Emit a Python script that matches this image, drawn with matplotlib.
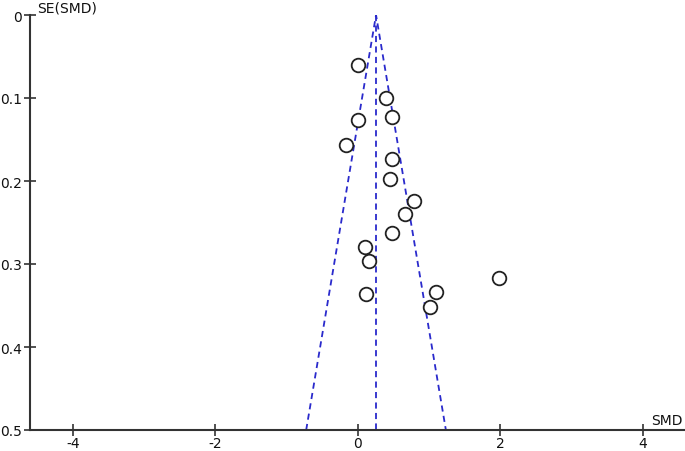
import matplotlib
matplotlib.use("Agg")
import matplotlib.pyplot as plt
import numpy as np

# Data: standardized mean differences and their standard errors
smd = [0.00, 0.39, 0.48, 0.00, -0.17, 0.48, 0.45, 0.79, 0.66, 0.48,
       0.10, 0.16, 1.98, 1.09, 0.11, 1.01]
se = [0.060, 0.100, 0.123, 0.126, 0.157, 0.174, 0.198, 0.224, 0.240, 0.263,
      0.280, 0.296, 0.317, 0.334, 0.336, 0.352]
pooled = 0.255
se_max = 0.5
xticks = [-4, -2, 0, 2, 4]
xtick_labels = ["-4", "-2", "0", "2", "4"]
yticks = [0, 0.1, 0.2, 0.3, 0.4, 0.5]
ytick_labels = ["0", "0.1", "0.2", "0.3", "0.4", "0.5"]

fig = plt.figure(figsize=(6.85, 4.52), dpi=100)
ax = fig.add_axes([30/685, 21/452, 655/685, 415/452])

blue = "#2a2acc"
dash = (0, (3.4, 2.4))
ax.plot([pooled, pooled], [0, se_max], color=blue, lw=1.3, linestyle=dash)
ax.plot([pooled - 1.96*se_max, pooled, pooled + 1.96*se_max], [se_max, 0, se_max],
        color=blue, lw=1.3, linestyle=dash)

ax.plot(smd, se, linestyle="none", marker="o", markersize=9.8,
        markerfacecolor="white", markeredgecolor="#222222", markeredgewidth=1.3)

ax.set_xlim(-4.6, 4.59)
ax.set_ylim(se_max, 0)
ax.set_xticks(xticks)
ax.set_xticklabels(xtick_labels)
ax.set_yticks(yticks)
ax.set_yticklabels(ytick_labels)

for s in ["top", "right"]:
    ax.spines[s].set_visible(False)
for s in ["left", "bottom"]:
    ax.spines[s].set_linewidth(1.5)
    ax.spines[s].set_color("#333333")
ax.tick_params(direction="inout", length=8, width=1.2, color="#333333",
               labelsize=10, labelcolor="#111111")
ax.tick_params(axis="x", pad=0.5)
ax.tick_params(axis="y", pad=1.5)

fig.text(37/685, 1 - 8/452, "SE(SMD)", fontsize=10, ha="left", va="center", color="#111111")
fig.text(683/685, 1 - 421/452, "SMD", fontsize=10, ha="right", va="center", color="#111111")

fig.savefig("out.png", dpi=100)
